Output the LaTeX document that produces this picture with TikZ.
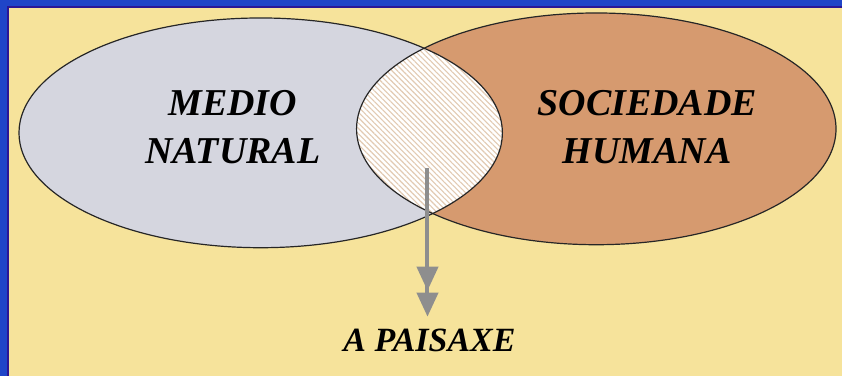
\documentclass[tikz,border=0pt]{standalone}
\usepackage{fontspec}
\setmainfont{Liberation Serif}
\usepackage{xcolor}
\usetikzlibrary{arrows.meta, patterns.meta}

\definecolor{paper}{HTML}{F6E39B}
\definecolor{frameblue}{HTML}{1F45C8}
\definecolor{frameline}{HTML}{2A1796}
\definecolor{natgray}{HTML}{D5D6DF}
\definecolor{soctan}{HTML}{D69A6F}
\definecolor{stripe}{HTML}{E2CAB2}
\definecolor{arrowgray}{HTML}{8E8E8E}

\begin{document}
\begin{tikzpicture}[
  x=1pt, y=-1pt,
  every node/.style={font=\bfseries\itshape},
  outline/.style={draw=black!85, line width=1.2pt},
  settext/.style={align=center, font=\fontsize{38}{48}\selectfont\bfseries\itshape},
  arrow/.style={draw=arrowgray, line width=4pt, shorten >=9pt,
                -{Triangle[length=24pt, width=21pt, sep=2pt] Triangle[length=24pt, width=21pt]}},
]
% frame and paper
\fill[frameblue] (0,0) rectangle (843,376);
\fill[paper] (9,8) rectangle (843,376);
\draw[frameline, line width=2pt] (843,7) -- (8,7) -- (8,376);
\useasboundingbox (0,0) rectangle (843,376);

% the two sets
\fill[natgray] (261,133) ellipse [x radius=242, y radius=115];
\fill[soctan]  (597,129) ellipse [x radius=240, y radius=116];
\begin{scope}
  \clip (261,133) ellipse [x radius=242, y radius=115];
  \fill[white] (597,129) ellipse [x radius=240, y radius=116];
  \fill[pattern={Lines[angle=-45, distance=3.8pt, line width=1.1pt]}, pattern color=stripe]
       (597,129) ellipse [x radius=240, y radius=116];
\end{scope}
\draw[outline] (261,133) ellipse [x radius=242, y radius=115];
\draw[outline] (597,129) ellipse [x radius=240, y radius=116];

% labels
\node[settext] (medio) at (233,127) {MEDIO\\NATURAL};
\node[settext] (socie) at (648,127) {SOCIEDADE\\HUMANA};
\node[settext, font=\fontsize{34}{40}\selectfont\bfseries\itshape] (paisaxe) at (430,341) {A PAISAXE};

\coordinate (src) at (428,168);
\draw[arrow] (src) -- (src |- paisaxe.north);
\end{tikzpicture}
\end{document}
